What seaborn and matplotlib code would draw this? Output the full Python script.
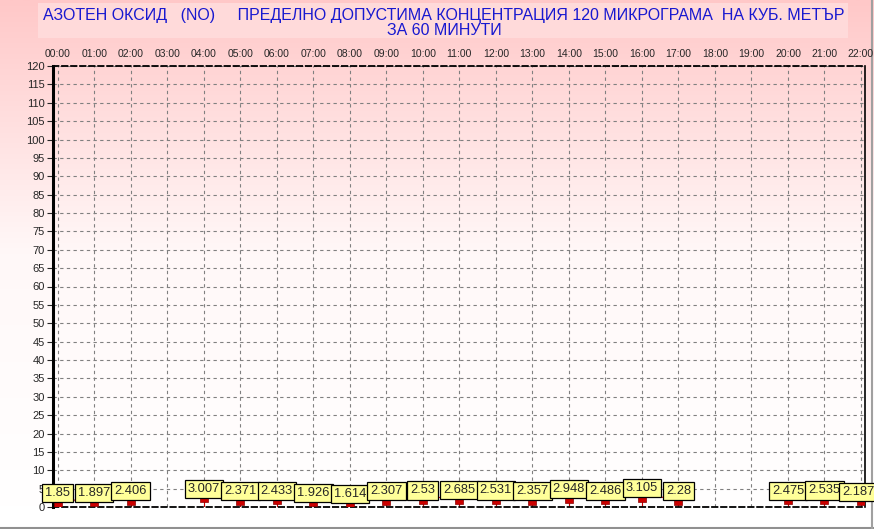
import numpy as np
import pandas as pd
import seaborn as sns
import matplotlib.pyplot as plt
from matplotlib.colors import LinearSegmentedColormap
from matplotlib.patches import Rectangle

# hourly NO values (hours 3, 18, 19 missing)
hours = [0, 1, 2, 4, 5, 6, 7, 8, 9, 10, 11, 12, 13, 14, 15, 16, 17, 20, 21, 22]
values = [1.85, 1.897, 2.406, 3.007, 2.371, 2.433, 1.926, 1.614, 2.307, 2.53,
          2.685, 2.531, 2.357, 2.948, 2.486, 3.105, 2.28, 2.475, 2.535, 2.187]
labels = ['1.85', '1.897', '2.406', '3.007', '2.371', '2.433', '1.926', '1.614',
          '2.307', '2.53', '2.685', '2.531', '2.357', '2.948', '2.486', '3.105',
          '2.28', '2.475', '2.535', '2.187']
hour_labels = [f'{h:02d}:00' for h in range(23)]
y_ticks = list(range(0, 121, 5))
title = ('АЗОТЕН ОКСИД   (NO)     ПРЕДЕЛНО ДОПУСТИМА КОНЦЕНТРАЦИЯ 120 МИКРОГРАМА  НА КУБ. МЕТЪР\n'
         'ЗА 60 МИНУТИ')

df = pd.DataFrame({'hour': range(23)})
df = df.merge(pd.DataFrame({'hour': hours, 'value': values}), on='hour', how='left')

sns.set_style('white')
plt.rcParams['font.family'] = ['Liberation Sans', 'DejaVu Sans']

fig = plt.figure(figsize=(8.74, 5.29), dpi=100)

# background gradient for the whole picture
bg = fig.add_axes([0, 0, 1, 1], zorder=-2)
cmap = LinearSegmentedColormap.from_list('pk', ['#ffffff', '#fff8f8', '#ffc8c8'])
grad = np.linspace(0, 1, 256).reshape(-1, 1)
bg.imshow(grad, aspect='auto', cmap=cmap, origin='lower',
          extent=[0, 1, 22 / 529, 1], vmin=0, vmax=1)
bg.add_patch(Rectangle((0, 0), 1, 22 / 529, color='white'))
bg.add_patch(Rectangle((38 / 874, 1 - 38 / 529), 810 / 874, 35 / 529,
                       color='#ffdada', lw=0))
bg.plot([0, 1], [1 / 529, 1 / 529], color='#909090', lw=1.5)
bg.plot([872 / 874, 872 / 874], [0, 1], color='#a0a0a0', lw=1.5)
bg.set_xlim(0, 1)
bg.set_ylim(0, 1)
bg.axis('off')

fig.text(444 / 874, 1 - 23 / 529, title, ha='center', va='center',
         color='#1818d0', fontsize=11.5, linespacing=1.05)

ax = fig.add_axes([53 / 874, 22 / 529, 812 / 874, 441 / 529])
ax.set_facecolor('none')

ax.vlines(hours, 0, values, color='#cc0000', lw=0.8, zorder=2)
# plain line with gaps where hours are missing
ax.plot(df['hour'], df['value'], color='#dd0000', lw=0.8, zorder=2)
ax.bar(hours, [1.4] * len(hours), bottom=np.array(values) - 1.75, width=0.22,
       color='#cc0000', edgecolor='#880000', lw=0.5, zorder=3)

for i, (h, v, t) in enumerate(zip(hours, values, labels)):
    dx = -2 if i == len(hours) - 1 else 0
    ax.annotate(t, (h, v), xytext=(dx, 5.2), textcoords='offset points',
                ha='center', va='center', fontsize=9.3, zorder=5,
                bbox=dict(boxstyle='square,pad=0.24', fc='#ffff99', ec='black', lw=0.9))

ax.set_xlim(-0.13, 22.11)
ax.set_ylim(0, 120)
ax.set_yticks(y_ticks)
ax.set_yticklabels([str(y) for y in y_ticks], fontsize=8)
ax.set_xticks(range(23))
ax.set_xticklabels(hour_labels, fontsize=7.5)
ax.xaxis.tick_top()
ax.tick_params(axis='x', length=0, pad=5)
ax.tick_params(axis='y', length=4, width=0.8, pad=2, left=True)
ax.set_xlabel('')
ax.set_ylabel('')
ax.grid(True, color='#808080', ls=(0, (3, 3)), lw=0.8)

ax.spines['left'].set_linewidth(2.2)
ax.spines['left'].set_color('black')
ax.spines['right'].set_linewidth(1.2)
ax.spines['right'].set_color('black')
for s in ['top', 'bottom']:
    ax.spines[s].set_linestyle((0, (3, 2)))
    ax.spines[s].set_linewidth(1.3)
    ax.spines[s].set_color('black')

fig.savefig('out.png', dpi=100)
